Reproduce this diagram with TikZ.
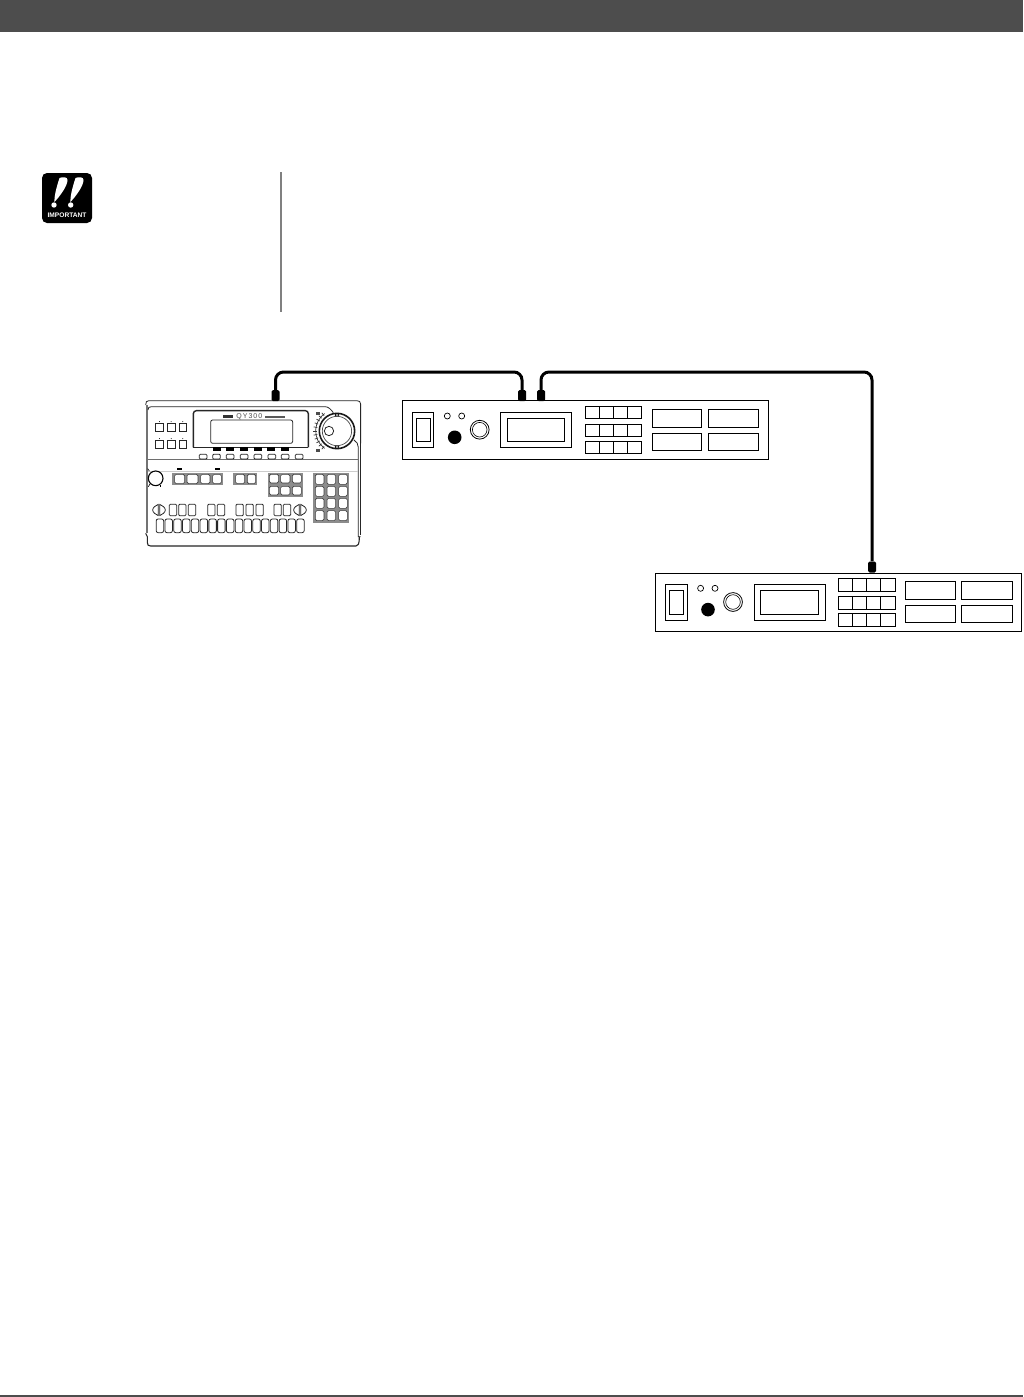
\documentclass[tikz,border=0pt]{standalone}
\usepackage{fontspec}
\setmainfont{Liberation Sans}
\definecolor{barcol}{HTML}{4D4D4D}
\definecolor{padgray}{HTML}{8C8C8C}
\definecolor{panelline}{HTML}{6E6E6E}
\tikzset{
  plug/.style={fill=black,draw=none,rounded corners=1.5pt,minimum width=8pt,minimum height=11pt,inner sep=0pt},
  cable/.style={line width=3pt,rounded corners=8pt},
  unitline/.style={line width=1pt},
  kb/.style={line width=0.8pt,black!85},
  pad/.style={line width=0.6pt,draw=black!75,fill=white,rounded corners=1.5pt},
  iconlabel/.style={text=white,font=\bfseries\fontsize{6.6pt}{7pt}\selectfont,inner sep=0pt}
}
\newcommand{\rackunit}[2]{%
\begin{scope}[shift={(#1,#2)},unitline]
  \draw (402.3,400.7) rectangle (768.3,459.3);
  \draw (412.3,412.3) rectangle (433.7,447.7);
  \draw (416.3,418.3) rectangle (430.3,441.7);
  \draw[line width=.7pt] (447.3,416) circle (3);
  \draw[line width=.7pt] (461.7,416) circle (3);
  \fill (454.7,437.3) circle (6.8);
  \draw[line width=.8pt] (479.7,429.7) circle (9.4);
  \draw[line width=.6pt] (479.7,429.7) circle (7.3);
  \draw (500.7,412.3) rectangle (571.7,447.7);
  \draw (507.3,418.3) rectangle (564.7,441.7);
  \foreach \ya/\yb in {406.3/418.7,424.3/436.7,441.3/453.7}{
    \draw (585.3,\ya) rectangle (641.7,\yb);
    \foreach \xx in {599.4,613.5,627.6} \draw (\xx,\ya) -- (\xx,\yb);
  }
  \draw (652.3,409.3) rectangle (701.7,427.3);
  \draw (708.3,409.3) rectangle (758.7,427.3);
  \draw (652.3,433.3) rectangle (701.7,450.3);
  \draw (708.3,433.3) rectangle (758.7,450.3);
\end{scope}}
\begin{document}
\begin{tikzpicture}[x=1pt,y=-1pt]
\useasboundingbox (0,0) rectangle (1023,1397);
\fill[white] (0,0) rectangle (1023,1397);
% heading bar, footer rule, side rule
\fill[barcol] (0,0) rectangle (1023,32);
\fill[barcol] (0,1394.8) rectangle (1023,1397);
\draw[black!50,line width=2pt] (281,172) -- (281,312);
% IMPORTANT icon
\fill[black,rounded corners=5pt] (42,173) rectangle (92,223);
\fill[white] (59.5,178) .. controls (63,176.5) and (67.5,177) .. (67.5,180) .. controls (67.5,186) and (60,196) .. (54.5,202) .. controls (54,197) and (56.5,187) .. (59.5,178) -- cycle;
\fill[white] (75.5,178) .. controls (79,176.5) and (83.5,177) .. (83.5,180) .. controls (83.5,186) and (76,196) .. (70.5,202) .. controls (70,197) and (72.5,187) .. (75.5,178) -- cycle;
\fill[white] (54,205) circle (2.7);
\fill[white] (70.7,205) circle (2.7);
\node[iconlabel] (importanttext) at (67,215.5) {IMPORTANT};
% rack units
\rackunit{0}{0}
\rackunit{253.3}{172.3}
% keyboard, in the 3x coordinates of its crop
\begin{scope}[shift={(130,360)},x=0.3333pt,y=-0.3333pt]
  \draw[kb] (56,122) -- (680,122) .. controls (688,122) and (692,125) .. (692,132) -- (692,250);
  \draw[kb] (47,135) .. controls (47,126) and (50,122) .. (56,122);
  \fill[black!55] (47,135) rectangle (54,520);
  \draw[kb] (54,150) .. controls (54,143) and (57,140) .. (64,140) -- (585,140) .. controls (595,140) and (603,148) .. (610,158);
  \draw[kb] (672,240) .. controls (680,245) and (685,252) .. (685,262) -- (685,530) -- (692,530);
  \draw[kb,line width=1.2pt] (692,250) -- (692,525);
  \draw[kb,line width=1.1pt] (47,520) -- (52,530) -- (52,548) .. controls (52,555) and (55,558) .. (62,558) -- (678,558) .. controls (684,558) and (688,554) .. (688,530);
  \draw[kb,panelline] (54,298) -- (685,298);
  \fill[black!20] (54,333) rectangle (685,337);
  % six square keys
  \foreach \xa in {77,112,147} \foreach \ya in {191,242}{
    \draw[kb] (\xa,\ya) rectangle ++(23,23);
    \fill (\xa+11.5,\ya-6) circle (1.5);
  }
  % display
  \draw[kb,line width=1.4pt,rounded corners=3pt] (190,262) -- (190,152) -- (535,152) -- (535,262);
  \draw[kb] (190,262) -- (535,262);
  \draw[kb,rounded corners=2pt] (242,180) rectangle (488,250);
  \fill[black!80] (280,165) rectangle (308,173);
  \node[inner sep=0pt,font=\fontsize{7pt}{8pt}\selectfont,text=black!70] (modelname) at (358,169.5) {\addfontfeature{LetterSpace=14}QY300};
  \fill[black!65] (404,167) rectangle (465,173);
  % soft keys
  \foreach \xa in {248,289,330,371,412,453} \fill (\xa,262) rectangle ++(24,12);
  \foreach \xa in {208,248,289,331,372,414,454,496} \draw[kb,rounded corners=1pt] (\xa,283) rectangle ++(23,14);
  % wheel
  \draw[line width=1.6pt,black!90] (621,213) circle (53);
  \draw[line width=.7pt,black!70] (621,213) circle (44);
  \draw[line width=.8pt,black!85] (597,213) circle (14);
  \draw[line width=.7pt,black!80] (621,213) ++(125:64) arc[start angle=125,end angle=235,radius=64];
  \foreach \ang in {130,140,...,230} \draw[line width=.7pt,black!80] (621,213) ++(\ang:60) -- ++(\ang:11);
  \fill[black!70] (559,155) rectangle ++(10,9);
  \fill[black!70] (559,267) rectangle ++(10,9);
  \draw[line width=.6pt,fill=white] (621,165) ellipse (6 and 3);
  \draw[line width=.6pt,fill=white] (621,261) ellipse (6 and 3);
  % small knob
  \draw[line width=1.1pt,fill=white] (77,355) circle (22);
  \draw[line width=.6pt] (58,333) -- (53,326);
  \draw[line width=.6pt] (60,372) -- (55,380);
  \draw[line width=.6pt] (92,376) -- (92,382);
  % dashes over pads
  \fill (142,324) rectangle ++(14,5);
  \fill (256,324) rectangle ++(14,5);
  % gray pad groups
  \fill[padgray] (127,338) rectangle (280,376);
  \foreach \xa/\xb in {134/164,171/204,212/240,248/274} \draw[pad] (\xa,343) rectangle (\xb,371);
  \fill[padgray] (310,338) rectangle (382,376);
  \foreach \xa/\xb in {317/344,352/377} \draw[pad] (\xa,343) rectangle (\xb,371);
  \fill[padgray] (413,338) rectangle (518,410);
  \foreach \xa/\xb in {418/446,452/480,487/514} \foreach \ya in {343,379}
    \draw[pad] (\xa,\ya) rectangle (\xb,\ya+26);
  \fill[padgray] (550,338) rectangle (657,488);
  \foreach \xa in {556,591,626} \foreach \ya in {343,379,415,452}
    \draw[pad] (\xa,\ya) rectangle ++(26,30);
  % arrow pairs
  \foreach \xc in {87,510}{
    \draw[kb,line join=round] (\xc-2,433) .. controls (\xc-10,436) and (\xc-19,443) .. (\xc-19,450) .. controls (\xc-19,457) and (\xc-10,464) .. (\xc-2,467) -- cycle;
    \draw[kb,line join=round] (\xc+2,433) .. controls (\xc+10,436) and (\xc+19,443) .. (\xc+19,450) .. controls (\xc+19,457) and (\xc+10,464) .. (\xc+2,467) -- cycle;
  }
  % small keys
  \foreach \xa in {118,146,175,233,262,318,348,378,432,460}
    \draw[kb,rounded corners=1pt] (\xa,433) rectangle ++(22,34);
  % long key row
  \foreach \i in {0,...,16}
    \draw[kb,rounded corners=2pt] ({77+\i*26.35+1.5},477) rectangle ++(22.5,41);
\end{scope}
% plugs
\node[plug] (plugkb) at (275.5,395.5) {};
\node[plug] (plugunita) at (522,395.5) {};
\node[plug] (plugunitb) at (541,395.5) {};
\node[plug] (plugunitc) at (872,567) {};
\coordinate (cabletopa) at (0,372);
% cables
\draw[cable] (plugkb.north) -- (plugkb.north |- cabletopa) -- (plugunita.north |- cabletopa) -- (plugunita.north);
\draw[cable] (plugunitb.north) -- (plugunitb.north |- cabletopa) -- (plugunitc.north |- cabletopa) -- (plugunitc.north);
\end{tikzpicture}
\end{document}
